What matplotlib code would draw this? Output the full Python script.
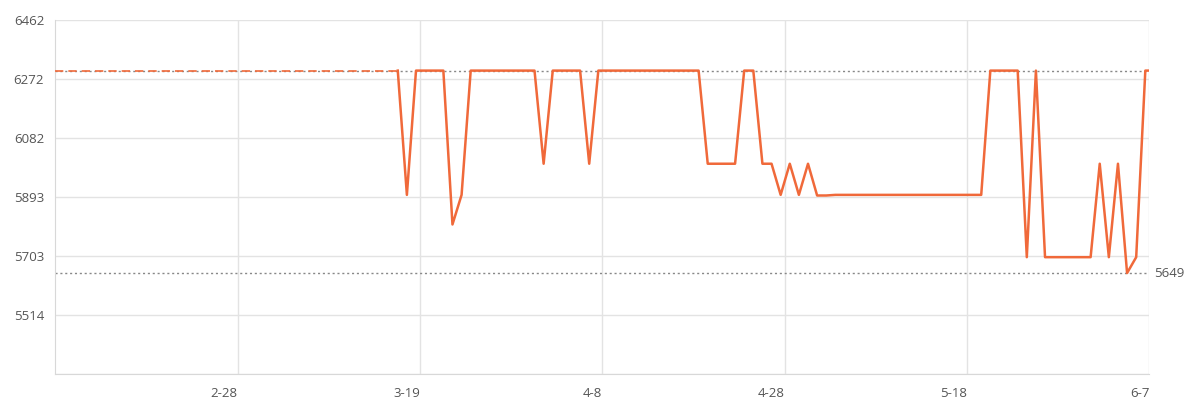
import numpy as np
import pandas as pd
import matplotlib
matplotlib.use('Agg')
import matplotlib.pyplot as plt
import matplotlib.dates as mdates

plt.rcParams['font.family'] = ['Open Sans', 'DejaVu Sans']

# daily price, 2024-03-16 .. 2024-06-06
start_day = '2024-03-16'
prices = [
    # Mar 16-31
    6299, 5900, 6299, 6299, 6299, 6299, 5805, 5900,
    6299, 6299, 6299, 6299, 6299, 6299, 6299, 6299,
    # Apr
    6000, 6299, 6299, 6299, 6299, 6000, 6299, 6299, 6299, 6299,
    6299, 6299, 6299, 6299, 6299, 6299, 6299, 6299, 6000, 6000,
    6000, 6000, 6299, 6299, 6000, 6000, 5900, 6000, 5900, 6000,
    # May
    5898, 5898, 5900, 5900, 5900, 5900, 5900, 5900, 5900, 5900,
    5900, 5900, 5900, 5900, 5900, 5900, 5900, 5900, 5900, 6299,
    6299, 6299, 6299, 5700, 6299, 5700, 5700, 5700, 5700, 5700,
    5700,
    # Jun 1-6
    6000, 5700, 6000, 5649, 5700, 6299,
]
x_start = '2024-02-08'
x_end = '2024-06-07'
tick_days = ['2024-02-28', '2024-03-19', '2024-04-08', '2024-04-28', '2024-05-18', '2024-06-07']

line_color = '#f0693a'
grid_color = '#e3e3e3'
text_color = '#555555'

dates = pd.date_range(start_day, periods=len(prices), freq='D') + pd.Timedelta(hours=13.5)
prices = np.array(prices)
lo, hi = prices.min(), prices.max()
span = hi - lo
ymin = lo - span / 2
ymax = hi + span / 4
yticks = np.linspace(ymin, ymax, 7)

fig = plt.figure(figsize=(11.9, 4.09), dpi=100)
ax = fig.add_axes([0.0465, 0.0849, 0.9193, 0.8662])

x0 = pd.Timestamp(x_start)
x1 = pd.Timestamp(x_end)
ax.set_xlim(x0, x1)
ax.set_ylim(ymin, ymax)

# max / min reference lines
ax.axhline(hi, color='#888888', lw=1, ls=(0, (1.5, 2)), zorder=2)
ax.axhline(lo, color='#888888', lw=1, ls=(0, (1.5, 2)), zorder=2)
ax.text(1.004, lo, '%d' % lo, transform=ax.get_yaxis_transform(),
        ha='left', va='center', fontsize=9.5, color=text_color)

# dashed lead-in before the first recorded price
ax.plot([x0, dates[0]], [prices[0], prices[0]], color=line_color, lw=1.2,
        ls=(0, (5, 3)), zorder=3)
ax.plot(list(dates) + [x1], list(prices) + [prices[-1]], color=line_color,
        lw=1.8, zorder=4)

ax.set_yticks(yticks)
ax.set_yticklabels(['' if i == 0 else '%d' % round(v) for i, v in enumerate(yticks)])
ax.set_xticks([pd.Timestamp(d) for d in tick_days])
ax.xaxis.set_major_formatter(mdates.DateFormatter('%-m-%-d'))
for lbl in ax.get_xticklabels():
    lbl.set_ha('right')

ax.grid(True, color=grid_color, lw=1)
ax.tick_params(length=0, labelsize=9.5, labelcolor=text_color)
ax.tick_params(axis='x', pad=9)
ax.tick_params(axis='y', pad=8)
for s in ['top', 'right']:
    ax.spines[s].set_visible(False)
for s in ['left', 'bottom']:
    ax.spines[s].set_color('#d8d8d8')

plt.savefig('out.png', dpi=100)
